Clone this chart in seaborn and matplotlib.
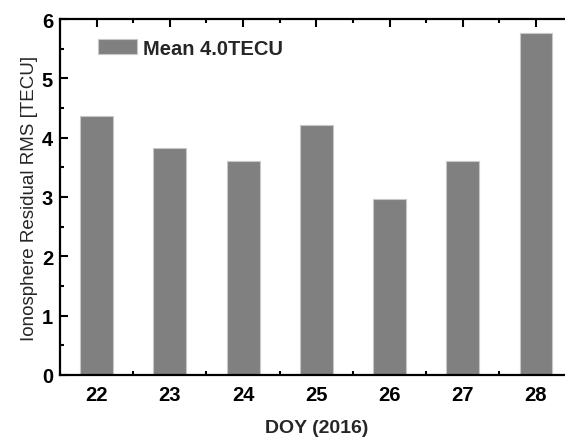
import numpy as np
import pandas as pd
import seaborn as sns
import matplotlib
matplotlib.use("Agg")
import matplotlib.pyplot as plt
from matplotlib.ticker import FixedLocator, MultipleLocator

days = ["22", "23", "24", "25", "26", "27", "28"]
rms = [4.36, 3.83, 3.60, 4.22, 2.96, 3.60, 5.77]
legend_label = "Mean 4.0TECU"

sns.set_style("ticks")
plt.rcParams['font.family'] = ['Liberation Sans', 'DejaVu Sans']

df = pd.DataFrame({"doy": days, "rms": rms})

fig = plt.figure(figsize=(5.65, 4.39), dpi=100)
# right spine falls just outside the canvas, as in the original
ax = fig.add_axes([60 / 565, 63 / 439, 512.6 / 565, 356 / 439])

sns.barplot(data=df, x="doy", y="rms", order=days, color="#808080",
            saturation=1, width=0.45, edgecolor="#c8c8c8", linewidth=0.8,
            label=legend_label, ax=ax)

ax.set_xlim(-0.5, 6.5)
ax.set_ylim(0, 6)
ax.yaxis.set_major_locator(MultipleLocator(1))
ax.yaxis.set_minor_locator(MultipleLocator(0.5))
ax.xaxis.set_minor_locator(FixedLocator(np.arange(-0.5, 7, 1.0)))

for s in ax.spines.values():
    s.set_linewidth(1.6)
    s.set_color("black")
ax.tick_params(which="both", direction="in", top=True, right=True,
               width=1.5, colors="black")
ax.tick_params(which="major", length=6, labelsize=14.5)
ax.tick_params(axis="x", which="major", pad=7)
ax.tick_params(axis="y", which="major", pad=5)
ax.tick_params(which="minor", length=3)
for lab in ax.get_xticklabels() + ax.get_yticklabels():
    lab.set_fontweight("bold")

ax.set_xlabel("DOY (2016)", fontsize=14, fontweight="bold", labelpad=11)
ax.set_ylabel("Ionosphere Residual RMS [TECU]", fontsize=13.5,
              fontweight="normal", labelpad=3)

ax.legend(loc="upper left", bbox_to_anchor=(38 / 512.6, 0.945), frameon=False,
          prop={"size": 14.5, "weight": "bold"}, handlelength=1.95,
          handleheight=0.72, handletextpad=0.3, borderpad=0,
          borderaxespad=0)

fig.savefig("out.png", dpi=100)
